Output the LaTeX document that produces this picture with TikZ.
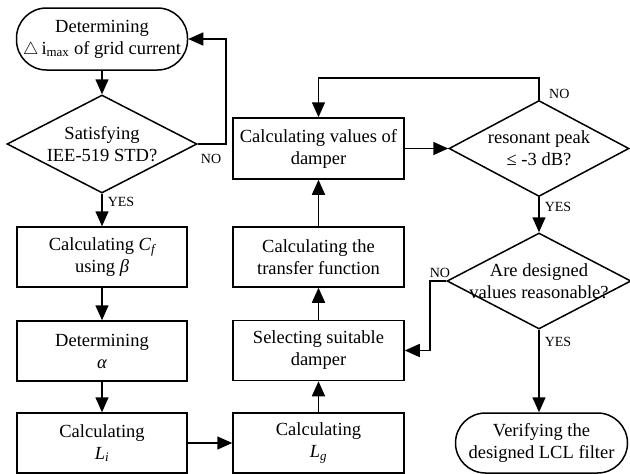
\documentclass[tikz,border=0pt]{standalone}
\usepackage{fontspec}
\setmainfont{Liberation Serif}
\usetikzlibrary{shapes.geometric,arrows.meta}
\begin{document}
\begin{tikzpicture}[x=1pt,y=-1pt,
  every node/.style={font=\fontsize{18.5}{22}\selectfont},
  box/.style={draw, line width=1.5pt, minimum width=170pt, minimum height=60pt, align=center, inner sep=2pt},
  term/.style={box, rounded corners=30pt},
  dec/.style={draw, diamond, line width=1.5pt, inner sep=0pt},
  dtext/.style={align=center, inner sep=0pt},
  lab/.style={font=\fontsize{14}{16}\selectfont, inner sep=1pt},
  arr/.style={line width=1.6pt, -{Triangle[length=15pt,width=13pt]}},
  line/.style={line width=1.6pt}
]
\useasboundingbox (0,0) rectangle (630,474);

% left column
\node[term, minimum width=171pt, minimum height=62pt] (start) at (102,39) {Determining\\$\triangle$\,i\textsubscript{max} of grid current};
\node[dec, minimum width=190pt, minimum height=98pt] (d1) at (102,144) {};
\node[dtext] (d1t) at (d1.center) {Satisfying\\IEE-519 STD?};
\node[box] (cf) at (102,257) {Calculating {\itshape C\textsubscript{f}}\\using {\itshape β}};
\node[box] (alpha) at (102,351) {Determining\\{\itshape α}};
\node[box] (li) at (102,443) {Calculating\\{\itshape L\textsubscript{i}}};

% middle column
\node[box, minimum width=171pt] (lg) at (318.5,443) {Calculating\\{\itshape L\textsubscript{g}}};
\node[box, minimum width=171pt] (sel) at (318.5,350.5) {Selecting suitable\\damper};
\node[box, minimum width=171pt] (tf) at (318.5,257) {Calculating the\\transfer function};
\node[box, minimum width=171pt, minimum height=61pt] (dmp) at (318.5,148.5) {Calculating values of\\damper};

% right column
\node[dec, minimum width=180pt, minimum height=96pt] (d2) at (539,148.5) {};
\node[dtext] (d2t) at (d2.center) {resonant peak\\≤ -3 dB?};
\node[dec, minimum width=184pt, minimum height=96pt] (d3) at (539,281) {};
\node[dtext] (d3t) at (d3.center) {Are designed\\values reasonable?};
\node[term, minimum width=172pt] (end) at (541.5,443) {Verifying the\\designed LCL filter};

% connectors
\draw[arr] (start.south) -- (d1.north);
\draw[arr] (d1.south) -- node[lab, pos=0.25, anchor=west, xshift=4pt] (yes1) {YES} (cf.north);
\draw[arr] (d1.east) -- ++(28,0) |- (start.east);
\node[lab, anchor=north west] (no1) at ([xshift=2pt,yshift=-9pt]d1.east) {NO};
\draw[arr] (cf.south) -- (alpha.north);
\draw[arr] (alpha.south) -- (li.north);
\draw[arr] (li.east) -- (lg.west);
\draw[arr] (lg.north) -- (sel.south);
\draw[arr] (sel.north) -- (tf.south);
\draw[arr] (tf.north) -- (dmp.south);
\draw[arr] (dmp.east) -- (d2.west);
\draw[arr] (d2.north) -- ++(0,-22) -| (dmp.north);
\node[lab, anchor=south west] (no2) at ([xshift=9pt,yshift=0pt]d2.north) {NO};
\draw[arr] (d2.south) -- node[lab, pos=0.28, anchor=west, xshift=4pt] (yes2) {YES} (d3.north);
\draw[arr] (d3.west) -- ++(-16,0) |- (sel.east);
\node[lab, anchor=south east] (no3) at ([xshift=5pt,yshift=2pt]d3.west) {NO};
\draw[arr] (d3.south) -- node[lab, pos=0.15, anchor=west, xshift=4pt] (yes3) {YES} (d3.south |- end.north);
\end{tikzpicture}
\end{document}
